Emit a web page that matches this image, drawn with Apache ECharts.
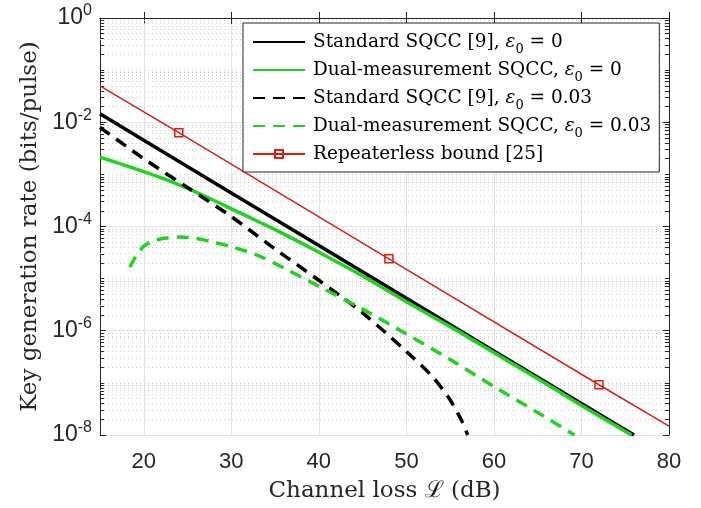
<!DOCTYPE html>
<html>
<head>
<meta charset="utf-8">
<script src="https://cdn.jsdelivr.net/npm/echarts@6/dist/echarts.min.js"></script>
<style>
  html, body { margin: 0; padding: 0; background: #fff; }
  #chart { width: 701px; height: 508px; }
</style>
</head>
<body>
<div id="chart"></div>
<script>
// channel loss (dB) and key rate (bits/pulse)
const lossStdZero = [15, 20, 30, 40, 50, 60, 70, 76];
const rateStdZero = [1.45e-2, 4.5e-3, 4.4e-4, 4.3e-5, 4.2e-6, 4.1e-7, 4.0e-8, 1.0e-8];

const lossDualZero = [15, 19, 23, 27, 31, 35, 40, 45, 50, 55, 60, 65, 70, 75.7];
const rateDualZero = [2.15e-3, 1.29e-3, 7.4e-4, 3.8e-4, 1.82e-4, 8.7e-5, 3.2e-5, 1.12e-5, 3.6e-6, 1.2e-6,
                      3.8e-7, 1.2e-7, 3.7e-8, 1.0e-8];

const lossStdNoisy = [15, 20, 25, 30, 35, 40, 45, 50, 53, 55, 56.3, 57];
const rateStdNoisy = [8.0e-3, 2.0e-3, 5.6e-4, 1.55e-4, 3.7e-5, 9.3e-6, 2.2e-6, 4.0e-7, 1.3e-7, 4.7e-8, 1.9e-8, 1.0e-8];

const lossDualNoisy = [18.4, 19, 20, 21, 22.5, 24, 26, 28, 30, 33, 36, 40, 45, 50, 55, 60, 65, 69, 69.2];
const rateDualNoisy = [1.66e-5, 2.5e-5, 4.2e-5, 5.2e-5, 6.0e-5, 6.3e-5, 5.9e-5, 5.0e-5, 4.1e-5, 2.8e-5, 1.6e-5,
                       7.1e-6, 2.6e-6, 8.7e-7, 2.8e-7, 8.5e-8, 2.7e-8, 1.05e-8, 1.0e-8];

const lossBound = [15, 24, 48, 72, 80];
const rateBound = [5.0e-2, 6.3e-3, 2.4e-5, 9.2e-8, 1.48e-8];
const boundMarkerLoss = [24, 48, 72];

const seriesNames = [
    'Standard SQCC [9], eps=0',
    'Dual-measurement SQCC, eps=0',
    'Standard SQCC [9], eps=0.03',
    'Dual-measurement SQCC, eps=0.03',
    'Repeaterless bound [25]'
];
const legendLabels = {
    'Standard SQCC [9], eps=0': '{t|Standard SQCC [9], }{i|ε}{s|0}{t| = 0}',
    'Dual-measurement SQCC, eps=0': '{t|Dual-measurement SQCC, }{i|ε}{s|0}{t| = 0}',
    'Standard SQCC [9], eps=0.03': '{t|Standard SQCC [9], }{i|ε}{s|0}{t| = 0.03}',
    'Dual-measurement SQCC, eps=0.03': '{t|Dual-measurement SQCC, }{i|ε}{s|0}{t| = 0.03}',
    'Repeaterless bound [25]': '{t|Repeaterless bound [25]}'
};

const xMin = 15, xMax = 80;
const yMin = 1e-8, yMax = 1;

const GREEN = '#1fd41f';
const RED = '#d8200f';
const AXIS = '#262626';
const serif = '"DejaVu Serif", "Liberation Serif", serif';
const sans = '"Liberation Sans", Arial, sans-serif';

function pairs(xs, ys) {
    return xs.map(function (x, i) { return [x, ys[i]]; });
}

// minor log grid (2..9 x 10^n and the odd decades), placed on a hidden linear axis in log10 units
const minorExp = [];
for (let n = -8; n < 0; n++) {
    for (let k = 1; k <= 9; k++) {
        if (k === 1 && n % 2 === 0) continue;
        minorExp.push(Math.log10(k * Math.pow(10, n)));
    }
}
const tickLen = 0.45; // dB, about 4px
const minorTicks = [];
minorExp.forEach(function (e) {
    minorTicks.push([{coord: [xMin, e]}, {coord: [xMin + tickLen, e]}]);
    minorTicks.push([{coord: [xMax - tickLen, e]}, {coord: [xMax, e]}]);
});

const chart = echarts.init(document.getElementById('chart'), null, {renderer: 'canvas'});

const yLabel = {
    color: AXIS,
    margin: 8,
    formatter: function (value) {
        const e = Math.round(Math.log10(value));
        return '{b|10}{e|' + (e === 0 ? '0' : '-' + Math.abs(e)) + '}';
    },
    rich: {
        b: {fontSize: 23, fontFamily: sans, color: AXIS},
        e: {fontSize: 16, fontFamily: sans, color: AXIS, verticalAlign: 'top', padding: [0, 0, 14, 0]}
    }
};

const legendStyle = {
    fontFamily: serif,
    fontSize: 18.5,
    color: '#000',
    lineHeight: 20,
    padding: [0, 0, 0, 3],
    rich: {
        t: {fontFamily: serif, fontSize: 18.5, color: '#000', lineHeight: 20},
        i: {fontFamily: serif, fontSize: 18.5, fontStyle: 'italic', color: '#000', lineHeight: 20},
        s: {fontFamily: serif, fontSize: 13, color: '#000', lineHeight: 20, verticalAlign: 'bottom', padding: [0, 0, -4, 0]}
    }
};

const option = {
    animation: false,
    backgroundColor: '#fff',
    grid: {left: 100, right: 32, top: 18, bottom: 72},
    legend: {
        data: seriesNames.map(function (n, i) {
            return i < 4 ? {name: n, itemStyle: {opacity: 0}} : {name: n};
        }),
        orient: 'vertical',
        left: 243,
        top: 23,
        z: 10,
        backgroundColor: '#fff',
        borderColor: AXIS,
        borderWidth: 1,
        borderRadius: 0,
        padding: [9, 8, 8, 9],
        itemWidth: 52,
        itemHeight: 10,
        itemGap: 4,
        formatter: function (name) { return legendLabels[name]; },
        textStyle: legendStyle
    },
    xAxis: [{
        type: 'value',
        min: xMin,
        max: xMax,
        name: 'Channel loss ℒ (dB)',
        nameLocation: 'middle',
        nameGap: 45,
        nameTextStyle: {fontFamily: serif, fontSize: 23, color: AXIS},
        axisLine: {lineStyle: {color: AXIS, width: 1}},
        axisTick: {inside: true, length: 6, lineStyle: {color: AXIS}},
        axisLabel: {showMinLabel: false, fontFamily: sans, fontSize: 22, color: AXIS, margin: 16},
        splitLine: {show: true, lineStyle: {color: '#e2e2e2', width: 1}}
    }, {
        type: 'value',
        position: 'top',
        min: xMin,
        max: xMax,
        axisLine: {show: true, onZero: false, lineStyle: {color: AXIS, width: 1}},
        axisTick: {inside: true, length: 6, lineStyle: {color: AXIS}},
        axisLabel: {show: false},
        splitLine: {show: false}
    }],
    yAxis: [{
        type: 'log',
        logBase: 10,
        min: yMin,
        max: yMax,
        interval: 2,
        name: 'Key generation rate (bits/pulse)',
        nameLocation: 'middle',
        nameGap: 57,
        nameTextStyle: {fontFamily: serif, fontSize: 23, color: AXIS},
        axisLine: {show: true, lineStyle: {color: AXIS, width: 1}},
        axisTick: {inside: true, length: 6, lineStyle: {color: AXIS}},
        axisLabel: yLabel,
        splitLine: {show: true, lineStyle: {color: '#e2e2e2', width: 1}}
    }, {
        type: 'log',
        logBase: 10,
        position: 'right',
        min: yMin,
        max: yMax,
        interval: 2,
        axisLine: {show: true, onZero: false, lineStyle: {color: AXIS, width: 1}},
        axisTick: {inside: true, length: 6, lineStyle: {color: AXIS}},
        axisLabel: {show: false},
        splitLine: {show: false}
    }, {
        // hidden helper axis in log10 units for the minor grid
        type: 'value',
        show: false,
        min: -8,
        max: 0,
        interval: 2
    }],
    series: [
        {
            name: 'minor-grid',
            type: 'line',
            yAxisIndex: 2,
            data: [],
            z: 1,
            silent: true,
            markLine: {
                z: 1,
                silent: true,
                animation: false,
                symbol: ['none', 'none'],
                label: {show: false},
                lineStyle: {color: '#cdcdcd', width: 1, type: [1, 3]},
                data: minorExp.map(function (e) { return {yAxis: e}; })
            }
        },
        {
            name: 'minor-ticks',
            type: 'line',
            yAxisIndex: 2,
            data: [],
            z: 1,
            silent: true,
            markLine: {
                z: 1,
                silent: true,
                animation: false,
                symbol: ['none', 'none'],
                label: {show: false},
                lineStyle: {color: AXIS, width: 1, type: 'solid'},
                data: minorTicks
            }
        },
        {
            name: seriesNames[0],
            type: 'line',
            data: pairs(lossStdZero, rateStdZero),
            showSymbol: false,
            symbol: 'none',
            z: 3,
            lineStyle: {color: '#000', width: 3.5, type: 'solid'},
            itemStyle: {color: '#000'}
        },
        {
            name: seriesNames[1],
            type: 'line',
            data: pairs(lossDualZero, rateDualZero),
            smooth: 0.3,
            showSymbol: false,
            symbol: 'none',
            z: 3,
            lineStyle: {color: GREEN, width: 3.5, type: 'solid'},
            itemStyle: {color: GREEN}
        },
        {
            name: seriesNames[2],
            type: 'line',
            data: pairs(lossStdNoisy, rateStdNoisy),
            smooth: 0.3,
            showSymbol: false,
            symbol: 'none',
            z: 3,
            lineStyle: {color: '#000', width: 3.5, type: [12, 8]},
            itemStyle: {color: '#000'}
        },
        {
            name: seriesNames[3],
            type: 'line',
            data: pairs(lossDualNoisy, rateDualNoisy),
            smooth: 0.3,
            showSymbol: false,
            symbol: 'none',
            z: 3,
            lineStyle: {color: GREEN, width: 3.5, type: [12, 8]},
            itemStyle: {color: GREEN}
        },
        {
            name: seriesNames[4],
            type: 'line',
            data: lossBound.map(function (x, i) {
                return {
                    value: [x, rateBound[i]],
                    symbol: boundMarkerLoss.indexOf(x) >= 0 ? 'rect' : 'none'
                };
            }),
            showSymbol: true,
            symbol: 'rect',
            symbolSize: 8,
            z: 3,
            lineStyle: {color: RED, width: 1.5},
            itemStyle: {color: 'rgba(0,0,0,0)', borderColor: RED, borderWidth: 1.5}
        }
    ]
};

chart.setOption(option);
</script>
</body>
</html>
